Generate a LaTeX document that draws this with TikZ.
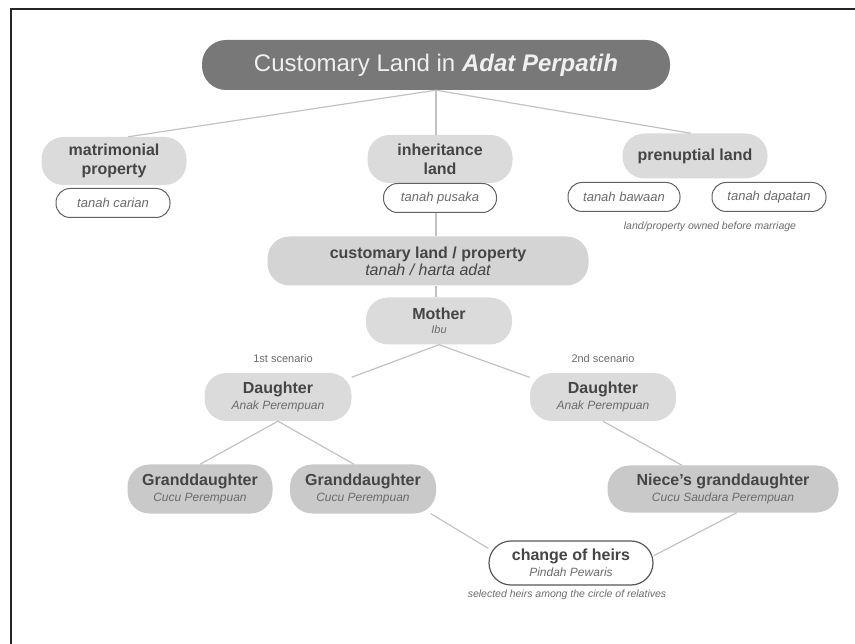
\documentclass[tikz,border=0pt]{standalone}
\usepackage{fontspec}
\setmainfont{Liberation Sans}
\usepackage{tikz}
\usetikzlibrary{calc}
\definecolor[named]{AdatTitle}{gray}{0.47}
\definecolor[named]{AdatPale}{gray}{0.86}
\definecolor[named]{AdatMid}{gray}{0.83}
\definecolor[named]{AdatDeep}{gray}{0.79}
\definecolor[named]{AdatText}{gray}{0.27}
\definecolor[named]{AdatSub}{gray}{0.42}
\definecolor[named]{AdatLine}{gray}{0.76}
\newcommand{\sub}[1]{\\[-3pt]{\fontsize{12}{13}\selectfont\mdseries\itshape\color{AdatSub}#1}}
\tikzset{
  heading/.style={fill=AdatTitle, text=white!94!black, rounded corners=24pt,
    minimum width=468pt, minimum height=50pt, inner sep=0pt,
    font=\fontsize{24}{28}\selectfont},
  pill/.style={fill=AdatPale, text=AdatText, rounded corners=22pt,
    minimum height=48pt, inner sep=0pt, align=center,
    font=\fontsize{16}{19}\selectfont\bfseries},
  tag/.style={draw=AdatText!85, fill=white, text=AdatSub, rounded corners=14pt,
    minimum height=29pt, inner sep=0pt, line width=1pt,
    font=\fontsize{13}{15}\selectfont\itshape},
  note/.style={text=AdatSub, inner sep=0pt, font=\fontsize{11}{13}\selectfont},
  link/.style={AdatLine, line width=1.2pt}
}

\begin{document}
\begin{tikzpicture}[x=1pt,y=-1pt]
  \useasboundingbox (0,0) rectangle (855,644);
  \draw[line width=1.6pt, black!85] (11,644) -- (11,9) -- (855,9);

  \node[heading] (title) at (436,65) {Customary Land in \textbf{\textit{Adat Perpatih}}};

  % first row
  \node[pill, minimum width=145pt] (mat) at (114,161) {matrimonial\\property};
  \node[tag, minimum width=114pt] (car) at (113,203) {tanah carian};
  \node[pill, minimum width=145pt] (inh) at (440,159) {inheritance\\land};
  \node[tag, minimum width=113pt] (pus) at (440,198) {tanah pusaka};
  \node[pill, minimum width=145pt, minimum height=45pt] (pre) at (695,156) {prenuptial land};
  \node[tag, minimum width=112pt] (baw) at (624,197) {tanah bawaan};
  \node[tag, minimum width=114pt] (dap) at (769,197) {tanah dapatan};
  \node[note, font=\fontsize{10.5}{12}\selectfont\itshape] (own) at (710,227)
    {land/property owned before marriage};

  \node[pill, fill=AdatMid, minimum width=321pt, minimum height=49pt] (cust) at (428,261)
    {customary land / property\\[-2pt]{\mdseries\itshape tanah / harta adat}};
  \node[pill, minimum width=146pt, minimum height=47pt] (mom) at (439,321)
    {Mother\\[-5pt]{\fontsize{11}{12}\selectfont\mdseries\itshape\color{AdatSub}Ibu}};

  % scenarios
  \node[note] (sc1) at (283,359) {1st scenario};
  \node[note] (sc2) at (603,359) {2nd scenario};
  \node[pill, minimum width=147pt] (dl) at (278,397) {Daughter\sub{Anak Perempuan}};
  \node[pill, minimum width=146pt] (dr) at (603,397) {Daughter\sub{Anak Perempuan}};
  \node[pill, fill=AdatDeep, minimum width=145pt, minimum height=49pt] (g1) at (200,489)
    {Granddaughter\sub{Cucu Perempuan}};
  \node[pill, fill=AdatDeep, minimum width=146pt, minimum height=49pt] (g2) at (363,489)
    {Granddaughter\sub{Cucu Perempuan}};
  \node[pill, fill=AdatDeep, minimum width=231pt, minimum height=47pt] (ng) at (723,489)
    {Niece's granddaughter\sub{Cucu Saudara Perempuan}};
  \node[pill, fill=white, draw=AdatText!90, line width=1.2pt, minimum width=164pt,
    minimum height=44pt] (ch) at (571,563) {change of heirs\sub{Pindah Pewaris}};
  \node[note, font=\fontsize{10.5}{12}\selectfont\itshape] (sel) at (567,595)
    {selected heirs among the circle of relatives};

  \draw[link] (title.south) -- (mat.60);
  \draw[link] (title.south) -- (pre.100);
  \draw[link] (title.south) -- (inh.north -| title.south);
  \draw[link] (pus.south -| title.south) -- (cust.north -| title.south);
  \draw[link] (cust.south -| title.south) -- (mom.north -| title.south);
  \draw[link] (mom.south) -- (dl.15);
  \draw[link] (mom.south) -- (dr.165);
  \draw[link] (dl.south) -- (g1.north);
  \draw[link] (dl.south) -- (g2.110);
  \draw[link] (dr.south) -- (ng.150);
  \draw[link] (g2.-20) -- (ch.170);
  \draw[link] (ng.-60) -- (ch.5);
\end{tikzpicture}
\end{document}
